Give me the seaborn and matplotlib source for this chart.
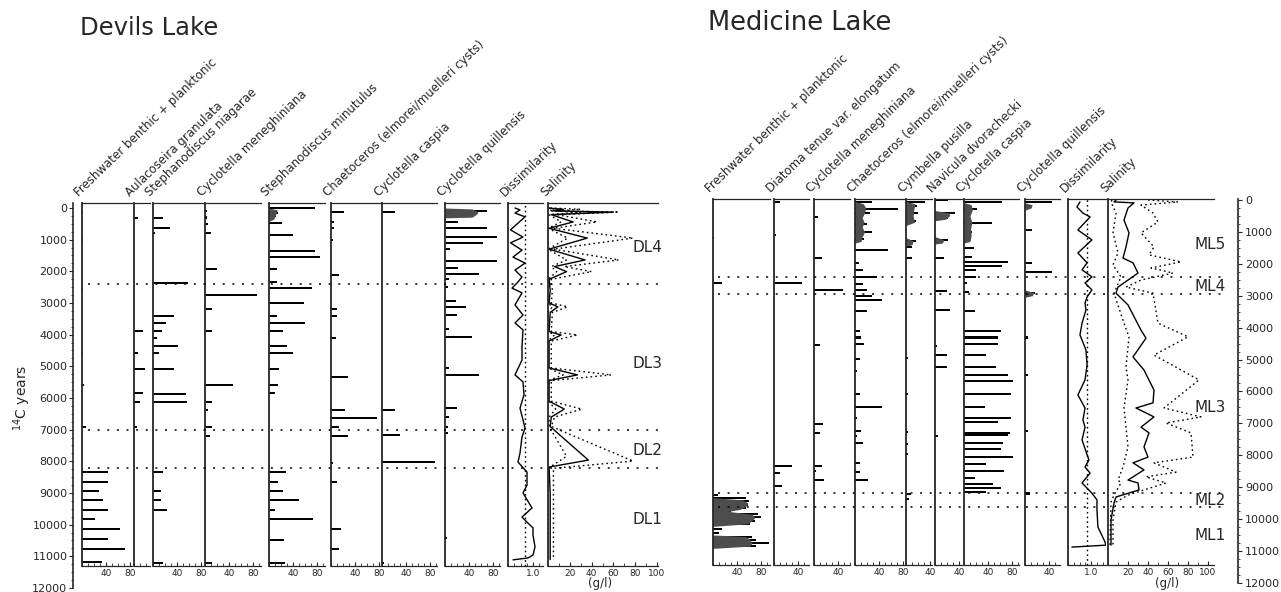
import numpy as np
import matplotlib
matplotlib.use("Agg")
import matplotlib.pyplot as plt
from matplotlib.ticker import MultipleLocator
import seaborn as sns

# ---------------------------------------------------------------- data
# Devils Lake diatom percentages (age in 14C years BP, value in %)
dl_fw_age = [150, 1000, 2600, 4600, 5600, 6900, 8340, 8650, 8940, 9220, 9540, 9820, 10130, 10450, 10770, 11180]
dl_fw_val = [1, 1, 1, 2, 3, 6, 43, 43, 28, 35, 43, 22, 63, 43, 72, 33]

dl_aul_age = [320, 3880, 4580, 5080, 5840, 6120, 6910]
dl_aul_val = [7, 15, 7, 18, 15, 10, 5]

dl_sn_age = [320, 640, 800, 2370, 3410, 3630, 3880, 4110, 4360, 4590, 5090, 5880, 6130, 8340, 8940, 9220, 9540, 11200]
dl_sn_val = [17, 28, 3, 58, 35, 22, 15, 7, 42, 10, 35, 55, 57, 17, 13, 13, 23, 17]

dl_cm_age = [100, 300, 500, 800, 1930, 2750, 3190, 3880, 5590, 6130, 6370, 6900, 7200, 11200]
dl_cm_val = [4, 3, 5, 10, 20, 87, 11, 11, 46, 11, 5, 11, 9, 11]

dl_sm_age = [0, 150, 250, 480, 850, 1350, 1540, 1930, 2330, 2530, 2990, 3410, 3640, 3880, 4360, 4570,
             5090, 5590, 5850, 8340, 8650, 8940, 9220, 9550, 9820, 10480, 11220]
dl_sm_val = [77, 15, 12, 22, 40, 77, 85, 13, 13, 72, 58, 13, 60, 23, 30, 40,
             17, 15, 10, 28, 15, 23, 50, 10, 73, 25, 27]
dl_sm_fill_age = [0, 60, 150, 250, 350, 420]
dl_sm_fill_val = [0, 14, 12, 10, 8, 0]

dl_ch_age = [120, 450, 620, 1000, 2110, 3190, 3410, 4110, 5330, 6370, 6630, 6910, 7200, 8050, 8650, 10130, 10770]
dl_ch_val = [22, 5, 5, 4, 13, 10, 10, 8, 28, 23, 77, 13, 28, 4, 10, 17, 13]

dl_cc_age = [120, 6370, 7170, 8020, 11200]
dl_cc_val = [22, 22, 30, 88, 3]

dl_cq_age = [100, 440, 640, 920, 1100, 1300, 1670, 1900, 2080, 2250, 2500, 2930, 3130, 3380, 3820,
             4060, 5040, 5280, 6330, 6600, 6910, 7100, 10420]
dl_cq_val = [70, 22, 70, 87, 63, 8, 87, 22, 57, 6, 5, 18, 35, 20, 6,
             45, 6, 57, 20, 6, 5, 5, 3]
dl_cq_fill_age = [0, 30, 80, 150, 230, 290, 310]
dl_cq_fill_val = [0, 45, 52, 55, 50, 45, 0]

dl_dis_age = [0, 60, 160, 280, 690, 920, 1100, 1330, 1550, 1740, 1960, 2180, 2370, 2530, 2680, 3060,
              3380, 3630, 3850, 4390, 4800, 5270, 5490, 5900, 6320, 6690, 6950, 7230, 7740, 8020,
              8340, 8750, 9000, 9470, 9760, 9950, 10100, 10330, 10700, 10960, 11050, 11110]
dl_dis_val = [0.28, 0.48, 0.28, 0.68, 0.10, 0.60, 0.10, 0.56, 0.20, 0.68, 0.28, 0.56, 0.36, 0.16, 0.56, 0.28,
              0.60, 0.28, 0.60, 0.56, 0.56, 0.28, 0.60, 0.64, 0.48, 0.60, 0.68, 0.56, 0.48, 0.40,
              0.76, 0.76, 0.60, 0.96, 0.56, 0.80, 1.00, 1.00, 1.08, 1.00, 0.80, 0.20]
dl_dis_crit = 0.68

dl_sal_age = [0, 40, 90, 130, 210, 440, 640, 950, 1300, 1640, 1850, 2010, 2250, 2600, 3000, 3120, 3300,
              3900, 4010, 4200, 5050, 5270, 5450, 6100, 6350, 6600, 6900, 7960, 8180, 9000, 11100]
dl_sal_val = [0, 14, 4, 60, 3, 23, 1, 36, 1, 34, 6, 17, 1, 2, 1, 9, 2,
              1, 12, 1, 1, 27, 1, 1, 15, 3, 2, 37, 1, 2, 2]
dl_sal_hi_age = [0, 40, 90, 130, 210, 440, 640, 950, 1300, 1640, 1850, 2010, 2250, 2600, 3000, 3120, 3300,
                 3900, 4010, 4200, 5050, 5270, 5450, 6100, 6350, 6600, 6900, 7990, 8220, 11100]
dl_sal_hi_val = [2, 30, 8, 65, 8, 45, 5, 78, 5, 65, 15, 40, 3, 4, 3, 18, 4,
                 3, 27, 3, 3, 58, 3, 3, 31, 6, 3, 78, 5, 5]
dl_sal_lo_age = [0, 40, 90, 130, 210, 440, 640, 950, 1300, 1640, 1850, 2010, 2250, 3000, 3120, 3300,
                 3900, 4010, 4200, 5050, 5270, 5450, 6100, 6350, 6600, 6900, 7840, 8220, 11100]
dl_sal_lo_val = [0, 6, 1, 30, 1, 12, 0, 18, 0, 17, 3, 8, 0, 0, 4, 0,
                 0, 6, 0, 0, 14, 0, 0, 7, 1, 1, 17, 0, 0]

# Medicine Lake diatom percentages
ml_fw_age = [1200, 2600, 9250, 9350, 9450, 9550, 9650, 9750, 9850, 9950, 10050, 10150, 10300, 10450,
             10550, 10650, 10750, 10850]
ml_fw_val = [1, 15, 8, 55, 60, 58, 55, 30, 75, 80, 70, 62, 15, 10, 65, 72, 93, 72]
ml_fw_fill_age = [9330, 9400, 9500, 9600, 9700, 9760, 9850, 9950, 10050, 10150, 10230, 10500, 10550,
                  10650, 10750, 10850, 10920]
ml_fw_fill_val = [0, 50, 58, 55, 45, 25, 65, 70, 65, 58, 0, 0, 55, 62, 65, 62, 0]

ml_dt_age = [60, 1100, 2600, 8330, 8570, 8960]
ml_dt_val = [10, 3, 47, 30, 10, 13]

ml_cm_age = [520, 1830, 2820, 4540, 7030, 7290, 8330, 8490, 8780]
ml_cm_val = [7, 13, 48, 10, 15, 10, 13, 4, 17]

ml_ch_age = [60, 290, 420, 570, 750, 1000, 1230, 1570, 1980, 2190, 2420, 2630, 2820, 3000, 3140,
             3470, 4120, 4310, 4520, 4990, 5350, 6090, 6500, 6820, 7240, 7390, 7630, 8230, 8540, 8780]
ml_ch_val = [28, 72, 25, 12, 20, 28, 15, 55, 7, 13, 37, 13, 20, 28, 45,
             20, 8, 10, 15, 8, 3, 8, 45, 3, 10, 3, 13, 8, 8, 22]
ml_ch_fill_age = [40, 120, 250, 400, 550, 700, 850, 1000, 1150, 1300, 1350]
ml_ch_fill_val = [0, 14, 18, 16, 12, 15, 12, 16, 12, 10, 0]

ml_cy_age = [60, 200, 420, 660, 1280, 1470, 1820, 4940, 6090, 7260, 7650, 7970, 9220, 9380]
ml_cy_val = [32, 18, 20, 17, 17, 10, 10, 3, 3, 3, 3, 3, 8, 5]
ml_cy_fill_age = [40, 120, 300, 500, 700, 800, 1180, 1280, 1400, 1450]
ml_cy_fill_val = [0, 15, 13, 12, 14, 0, 0, 12, 10, 0]

ml_nv_age = [0, 420, 570, 1240, 1830, 2850, 3450, 4570, 4850, 5250, 7390]
ml_nv_val = [22, 33, 22, 22, 15, 20, 25, 3, 20, 20, 5]
ml_nv_fill_age = [330, 400, 480, 600, 650, 1150, 1250, 1350, 1380]
ml_nv_fill_val = [0, 22, 25, 18, 0, 0, 15, 12, 0]

ml_cc_age = [60, 290, 720, 1000, 1280, 1500, 1780, 1950, 2070, 2190, 2420, 2610, 2870, 3470, 4120,
             4310, 4520, 4850, 5250, 5480, 5670, 6090, 6500, 6820, 6970, 7290, 7360, 7630, 7810,
             8050, 8280, 8510, 8720, 8890, 9030, 9140]
ml_cc_val = [63, 22, 47, 13, 10, 17, 13, 73, 63, 20, 20, 5, 8, 18, 62,
             57, 57, 37, 53, 73, 82, 78, 35, 78, 57, 77, 73, 65, 62,
             82, 37, 67, 18, 48, 62, 37]
ml_cc_fill_age = [80, 150, 300, 500, 700, 900, 1100, 1300, 1350]
ml_cc_fill_val = [0, 12, 14, 10, 13, 11, 12, 10, 0]

ml_cq_age = [60, 220, 940, 1980, 2250, 2920, 4310, 5480, 7240, 9200]
ml_cq_val = [45, 10, 12, 12, 45, 17, 5, 5, 5, 8]
ml_cq_fill_age = [90, 150, 250, 320, 2820, 2900, 3000, 3050]
ml_cq_fill_val = [0, 12, 10, 0, 0, 15, 12, 0]

ml_dis_age = [60, 220, 410, 530, 940, 1250, 1660, 1970, 2190, 2410, 2600, 2820, 3040, 3230, 3450,
              3860, 4230, 4700, 5170, 5640, 6110, 6520, 6900, 7120, 7520, 8150, 8370, 8560, 8870,
              9190, 9400, 9720, 10250, 10720, 10820, 10880]
ml_dis_val = [0.52, 0.39, 0.65, 0.96, 0.43, 1.04, 0.43, 0.83, 0.61, 1.04, 0.74, 1.04, 0.83, 0.74, 0.78,
              0.61, 0.52, 0.78, 0.83, 0.74, 0.43, 0.74, 0.65, 0.74, 0.61, 0.91, 0.74, 0.96, 0.61,
              1.04, 1.26, 1.26, 1.30, 1.61, 1.65, 0.17]
ml_dis_crit = 0.83

ml_sal_age = [0, 60, 90, 250, 630, 1030, 1470, 1820, 1970, 2290, 2730, 2920, 3290, 4080, 4330, 4920,
              5330, 5960, 6360, 6520, 6800, 7120, 7300, 7740, 8060, 8240, 8460, 8780, 8870, 9090,
              9310, 9500, 10030, 10820]
ml_sal_val = [8, 6, 26, 20, 16, 21, 18, 15, 25, 30, 10, 8, 20, 33, 38, 25,
              36, 46, 45, 28, 46, 33, 41, 36, 40, 25, 36, 20, 30, 31,
              8, 6, 3, 3]
ml_sal_hi_age = [0, 60, 160, 410, 690, 1030, 1470, 1720, 1940, 2130, 2290, 2510, 2730, 2920, 3860,
                 4290, 4860, 5640, 6520, 6800, 6990, 7300, 8060, 8240, 8530, 8680, 8870, 9250, 9470,
                 10030, 10820]
ml_sal_hi_val = [40, 70, 33, 45, 50, 33, 46, 41, 73, 43, 65, 33, 18, 45, 50,
                 80, 46, 91, 56, 93, 58, 83, 85, 46, 68, 38, 58, 20, 8,
                 5, 5]
ml_sal_lo_age = [0, 60, 410, 1030, 1660, 2040, 2410, 2920, 3860, 4290, 5240, 5640, 6520, 7120, 7740,
                 8370, 8780, 8870, 9250, 9470, 10820]
ml_sal_lo_val = [4, 3, 8, 5, 10, 5, 13, 6, 16, 21, 18, 20, 16, 18, 20,
                 15, 10, 13, 6, 3, 2]

dl_zones = [2400, 7000, 8200]
dl_zone_names = ["DL4", "DL3", "DL2", "DL1"]
dl_zone_label_age = [1260, 4900, 7650, 9850]
ml_zones = [2420, 2950, 9200, 9620]
ml_zone_names = ["ML5", "ML4", "ML3", "ML2", "ML1"]
ml_zone_label_age = [1410, 2700, 6500, 9430, 10520]

age_ticks = list(range(0, 12001, 1000))

dl_titles = ["Freshwater benthic + planktonic", "Aulacoseira granulata", "Stephanodiscus niagarae",
             "Cyclotella meneghiniana", "Stephanodiscus minutulus",
             "Chaetoceros (elmorei/muelleri cysts)", "Cyclotella caspia", "Cyclotella quillensis",
             "Dissimilarity", "Salinity"]
ml_titles = ["Freshwater benthic + planktonic", "Diatoma tenue var. elongatum", "Cyclotella meneghiniana",
             "Chaetoceros (elmorei/muelleri cysts)", "Cymbella pusilla", "Navicula dvorachecki",
             "Cyclotella caspia", "Cyclotella quillensis", "Dissimilarity", "Salinity"]

# ---------------------------------------------------------------- layout
W, H = 1281, 592
sns.set_style("ticks")
plt.rcParams["font.family"] = ["DejaVu Sans"]
plt.rcParams["axes.linewidth"] = 1.0

fig = plt.figure(figsize=(W / 100, H / 100), dpi=100)
fig.patch.set_facecolor("white")


def rect(x, y_top, w, h):
    return [x / W, 1 - (y_top + h) / H, w / W, h / H]


# vertical geometry: pixel row of age 0 and pixels per year
DL_Y0, DL_K, DL_TOP, DL_BOT = 208, 0.03167, 203, 566
ML_Y0, ML_K, ML_TOP, ML_BOT = 200, 0.0319, 199, 565


def ylims(y0, k, top, bot):
    return ((bot - y0) / k, (top - y0) / k)


DL_YLIM = ylims(DL_Y0, DL_K, DL_TOP, DL_BOT)
ML_YLIM = ylims(ML_Y0, ML_K, ML_TOP, ML_BOT)


def panel(left, width, top, bot, ylim, xmax, ticks, minor):
    ax = fig.add_axes(rect(left, top, width, bot - top))
    ax.set_facecolor("none")
    ax.spines["right"].set_visible(False)
    for s in ("top", "bottom"):
        ax.spines[s].set_linewidth(0.9)
    ax.spines["left"].set_linewidth(1.3)
    ax.set_xlim(0, xmax)
    ax.set_ylim(*ylim)
    ax.set_yticks([])
    ax.set_xticks(ticks)
    ax.set_xticklabels([("%.1f" % t) if t < 2 else ("%d" % t) for t in ticks], fontsize=6.5)
    ax.xaxis.set_minor_locator(MultipleLocator(minor))
    ax.tick_params(axis="x", which="major", direction="in", length=3, width=0.8, pad=2)
    ax.tick_params(axis="x", which="minor", direction="in", length=2, width=0.6)
    ax.tick_params(axis="y", left=False, labelleft=False)
    return ax


def bars(ax, ages, vals, thick=64):
    a = np.asarray(ages, float)
    v = np.asarray(vals, float)
    order = np.argsort(a)
    a, v = a[order], v[order]
    d = np.min(np.diff(a)) if len(a) > 1 else 1.0
    sns.barplot(x=v, y=a, orient="h", native_scale=True, width=thick / d, color="black",
                saturation=1, errorbar=None, linewidth=0, ax=ax)


def shade(ax, ages, vals):
    ax.fill_betweenx(ages, 0, vals, color="0.3", linewidth=0)


def trace(ax, ages, vals, ls="-", lw=1.0):
    sns.lineplot(x=vals, y=ages, sort=False, estimator=None, orient="y", color="black",
                 linewidth=lw, linestyle=ls, ax=ax)


DOT = (0, (1.2, 2.2))
S = 0.6  # pixels per percent on the diatom panels

# ---------------------------------------------------------------- Devils Lake
dl_specs = [
    (82, 50, [40, 80]), (134, 16, []), (153, 50, [40, 80]), (205, 56, [40, 80]),
    (269, 56, [40, 80]), (331, 50, [40, 80]), (382, 55, [40, 80]), (445, 55, [40, 80]),
]
dl_bars = [(dl_fw_age, dl_fw_val), (dl_aul_age, dl_aul_val), (dl_sn_age, dl_sn_val),
           (dl_cm_age, dl_cm_val), (dl_sm_age, dl_sm_val), (dl_ch_age, dl_ch_val),
           (dl_cc_age, dl_cc_val), (dl_cq_age, dl_cq_val)]
dl_axes = []
for (left, width, ticks), (ag, vl) in zip(dl_specs, dl_bars):
    ax = panel(left, width, DL_TOP, DL_BOT, DL_YLIM, width / S, ticks, 10)
    bars(ax, ag, vl)
    ax.set_xlim(0, width / S)
    ax.set_ylim(*DL_YLIM)
    ax.set_xlabel(""); ax.set_ylabel("")
    dl_axes.append(ax)
shade(dl_axes[4], dl_sm_fill_age, dl_sm_fill_val)
shade(dl_axes[7], dl_cq_fill_age, dl_cq_fill_val)

ax = panel(508, 35, DL_TOP, DL_BOT, DL_YLIM, 35 / 25, [1.0], 0.25)
trace(ax, dl_dis_age, dl_dis_val)
ax.axvline(dl_dis_crit, color="black", linestyle=DOT, linewidth=1.0)
ax.set_xlim(0, 35 / 25); ax.set_ylim(*DL_YLIM)
ax.set_xlabel(""); ax.set_ylabel("")

ax = panel(548, 110, DL_TOP, DL_BOT, DL_YLIM, 110 / 1.09, [20, 40, 60, 80, 100], 10)
trace(ax, dl_sal_age, dl_sal_val)
trace(ax, dl_sal_hi_age, dl_sal_hi_val, ls=DOT)
trace(ax, dl_sal_lo_age, dl_sal_lo_val, ls=DOT)
ax.set_xlim(0, 110 / 1.09); ax.set_ylim(*DL_YLIM)
ax.set_xlabel(""); ax.set_ylabel("")

# left age axis
axL = fig.add_axes(rect(73, DL_TOP, 1, 588 - DL_TOP))
axL.set_facecolor("none")
for s in ("top", "right", "bottom"):
    axL.spines[s].set_visible(False)
axL.spines["left"].set_linewidth(1.2)
axL.set_ylim((588 - DL_Y0) / DL_K, (DL_TOP - DL_Y0) / DL_K)
axL.set_yticks(age_ticks)
axL.set_yticklabels([str(t) for t in age_ticks], fontsize=8)
axL.yaxis.set_minor_locator(MultipleLocator(250))
axL.tick_params(axis="y", which="major", direction="out", length=3, pad=1)
axL.tick_params(axis="y", which="minor", direction="out", length=1.5)
axL.set_xticks([])
fig.text(22 / W, 1 - 398 / H, "$^{14}$C years", rotation=90, fontsize=10, ha="center", va="center")

# zone boundaries and names
axZ = fig.add_axes(rect(88, DL_TOP, 577, DL_BOT - DL_TOP))
axZ.set_axis_off()
axZ.set_xlim(0, 1); axZ.set_ylim(*DL_YLIM)
axZ.hlines(dl_zones, 0, 1, colors="black", linestyles=[(0, (1.3, 5))], linewidth=1.1)
for name, age in zip(dl_zone_names, dl_zone_label_age):
    fig.text(647 / W, 1 - (DL_Y0 + DL_K * age) / H, name, fontsize=11, ha="center", va="center")

fig.text(600 / W, 1 - 584 / H, "(g/l)", fontsize=8.5, ha="center", va="center")
fig.text(80 / W, 1 - 28 / H, "Devils Lake", fontsize=17.5, ha="left", va="center")

dl_lefts = [82, 133, 153, 205, 269, 331, 382, 445, 508, 548]
for x, t in zip(dl_lefts, dl_titles):
    fig.text((x - 1) / W, 1 - 199 / H, t, rotation=44, rotation_mode="anchor",
             ha="left", va="bottom", fontsize=8.5)

# ---------------------------------------------------------------- Medicine Lake
ml_specs = [
    (713, 57, [40, 80]), (774, 35, [40]), (814, 36, [40]), (855, 50, [40, 80]),
    (906, 26, [40]), (935, 27, [40]), (964, 55, [40, 80]), (1025, 35, [40]),
]
ml_bars = [(ml_fw_age, ml_fw_val), (ml_dt_age, ml_dt_val), (ml_cm_age, ml_cm_val),
           (ml_ch_age, ml_ch_val), (ml_cy_age, ml_cy_val), (ml_nv_age, ml_nv_val),
           (ml_cc_age, ml_cc_val), (ml_cq_age, ml_cq_val)]
ml_axes = []
for (left, width, ticks), (ag, vl) in zip(ml_specs, ml_bars):
    ax = panel(left, width, ML_TOP, ML_BOT, ML_YLIM, width / S, ticks, 10)
    bars(ax, ag, vl)
    ax.set_xlim(0, width / S)
    ax.set_ylim(*ML_YLIM)
    ax.set_xlabel(""); ax.set_ylabel("")
    ml_axes.append(ax)
shade(ml_axes[0], ml_fw_fill_age, ml_fw_fill_val)
shade(ml_axes[3], ml_ch_fill_age, ml_ch_fill_val)
shade(ml_axes[4], ml_cy_fill_age, ml_cy_fill_val)
shade(ml_axes[5], ml_nv_fill_age, ml_nv_fill_val)
shade(ml_axes[6], ml_cc_fill_age, ml_cc_fill_val)
shade(ml_axes[7], ml_cq_fill_age, ml_cq_fill_val)

ax = panel(1068, 38, ML_TOP, ML_BOT, ML_YLIM, 38 / 23, [1.0], 0.25)
trace(ax, ml_dis_age, ml_dis_val)
ax.axvline(ml_dis_crit, color="black", linestyle=DOT, linewidth=1.0)
ax.set_xlim(0, 38 / 23); ax.set_ylim(*ML_YLIM)
ax.set_xlabel(""); ax.set_ylabel("")

ax = panel(1108, 106, ML_TOP, ML_BOT, ML_YLIM, 106, [20, 40, 60, 80, 100], 10)
trace(ax, ml_sal_age, ml_sal_val)
trace(ax, ml_sal_hi_age, ml_sal_hi_val, ls=DOT)
trace(ax, ml_sal_lo_age, ml_sal_lo_val, ls=DOT)
ax.set_xlim(0, 106); ax.set_ylim(*ML_YLIM)
ax.set_xlabel(""); ax.set_ylabel("")

# right age axis
axR = fig.add_axes(rect(1237, ML_TOP, 1, 583 - ML_TOP))
axR.set_facecolor("none")
for s in ("top", "left", "bottom"):
    axR.spines[s].set_visible(False)
axR.spines["right"].set_linewidth(1.2)
axR.set_ylim((583 - ML_Y0) / ML_K, (ML_TOP - ML_Y0) / ML_K)
axR.yaxis.tick_right()
axR.set_yticks(age_ticks)
axR.set_yticklabels([str(t) for t in age_ticks], fontsize=8)
axR.yaxis.set_minor_locator(MultipleLocator(250))
axR.tick_params(axis="y", which="major", direction="out", length=3, pad=2)
axR.tick_params(axis="y", which="minor", direction="out", length=1.5)
axR.set_xticks([])

axZ2 = fig.add_axes(rect(718, ML_TOP, 510, ML_BOT - ML_TOP))
axZ2.set_axis_off()
axZ2.set_xlim(0, 1); axZ2.set_ylim(*ML_YLIM)
axZ2.hlines(ml_zones, 0, 1, colors="black", linestyles=[(0, (1.3, 5))], linewidth=1.1)
for name, age in zip(ml_zone_names, ml_zone_label_age):
    fig.text(1210 / W, 1 - (ML_Y0 + ML_K * age) / H, name, fontsize=11, ha="center", va="center")

fig.text(1167 / W, 1 - 584 / H, "(g/l)", fontsize=8.5, ha="center", va="center")
fig.text(708 / W, 1 - 23 / H, "Medicine Lake", fontsize=18.5, ha="left", va="center")

ml_lefts = [713, 774, 814, 855, 906, 935, 964, 1025, 1068, 1108]
for x, t in zip(ml_lefts, ml_titles):
    fig.text((x - 1) / W, 1 - 195 / H, t, rotation=44, rotation_mode="anchor",
             ha="left", va="bottom", fontsize=8.5)

fig.savefig("out.png", dpi=100, facecolor="white")
